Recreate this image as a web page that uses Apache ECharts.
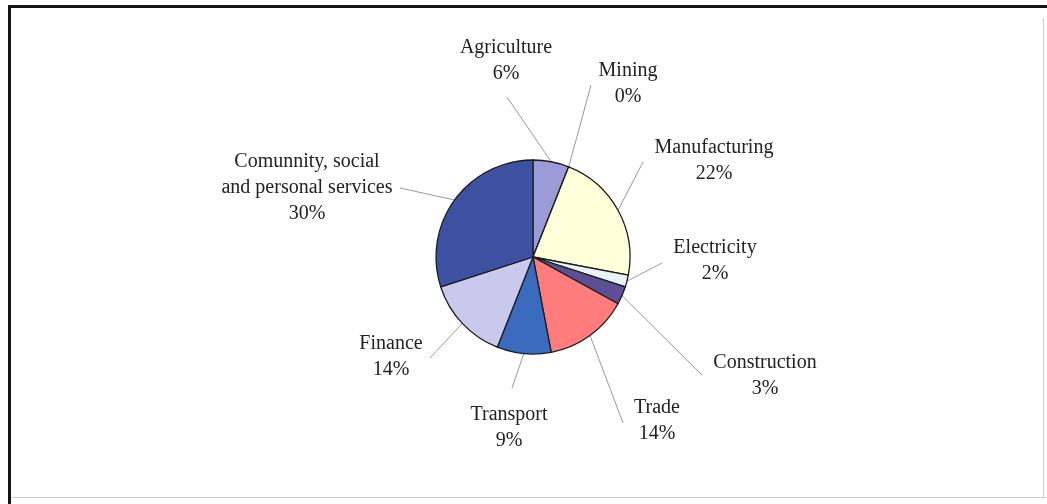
<!DOCTYPE html>
<html>
<head>
<meta charset="utf-8">
<script src="https://cdn.jsdelivr.net/npm/echarts@6/dist/echarts.min.js"></script>
<style>
  html, body { margin: 0; padding: 0; background: #fff; }
  #chart { width: 1047px; height: 504px; }
</style>
</head>
<body>
<div id="chart"></div>
<script>
// Sector shares of employment (percent)
const sectors = [
  'Agriculture', 'Mining', 'Manufacturing', 'Electricity', 'Construction',
  'Trade', 'Transport', 'Finance', 'Comunnity, social\nand personal services'
];
const shares = [6, 0, 22, 2, 3, 14, 9, 14, 30];
const sliceColors = [
  '#9b9bd8', '#8f8fc8', '#ffffd9', '#eaf4f7', '#5d4f94',
  '#ff7c7c', '#3b6bbf', '#c9c9ee', '#3d51a3'
];

// Where each label block sits, and where its leader line ends
const labelAnchors = [
  [506, 61], [628, 84], [714, 161], [715, 261], [765, 376],
  [657, 421], [509, 428], [391, 357], [307, 188]
];
const lineEnds = [
  [507, 97], [591, 85], [643, 162], [662, 263], [702, 375],
  [623, 423], [512, 388], [430, 358], [400, 188]
];

const chart = echarts.init(document.getElementById('chart'), null, { renderer: 'canvas' });

chart.setOption({
  backgroundColor: '#ffffff',
  animation: false,
  graphic: [
    { type: 'line', shape: { x1: 9.5, y1: 5, x2: 9.5, y2: 504 }, style: { stroke: '#151515', lineWidth: 3 } },
    { type: 'line', shape: { x1: 8, y1: 6.5, x2: 1047, y2: 6.5 }, style: { stroke: '#151515', lineWidth: 3 } },
    { type: 'line', shape: { x1: 1043.5, y1: 18, x2: 1043.5, y2: 497 }, style: { stroke: '#cfcfcf', lineWidth: 1 } },
    { type: 'line', shape: { x1: 11, y1: 497.5, x2: 1047, y2: 497.5 }, style: { stroke: '#cfcfcf', lineWidth: 1 } }
  ],
  series: [{
    type: 'pie',
    center: [533, 257],
    radius: 97,
    startAngle: 90,
    clockwise: true,
    avoidLabelOverlap: false,
    minShowLabelAngle: 0,
    itemStyle: { borderColor: '#1c1c1c', borderWidth: 1.3 },
    label: {
      show: true,
      position: 'outside',
      formatter: p => p.name + '\n' + p.value + '%',
      fontFamily: '"Liberation Serif", "DejaVu Serif", serif',
      fontSize: 20,
      lineHeight: 26,
      color: '#222',
      align: 'center'
    },
    labelLine: {
      show: true,
      length: 10,
      length2: 10,
      lineStyle: { color: '#9a9a9a', width: 1 }
    },
    labelLayout: function (params) {
      const i = params.dataIndex;
      const a = labelAnchors[i];
      const e = lineEnds[i];
      const pts = params.labelLinePoints;
      const start = pts ? pts[0] : e;
      return {
        x: a[0],
        y: a[1],
        align: 'center',
        verticalAlign: 'middle',
        labelLinePoints: [start, e, e]
      };
    },
    data: sectors.map((name, i) => ({
      name: name,
      value: shares[i],
      itemStyle: { color: sliceColors[i] }
    }))
  }]
});
</script>
</body>
</html>
